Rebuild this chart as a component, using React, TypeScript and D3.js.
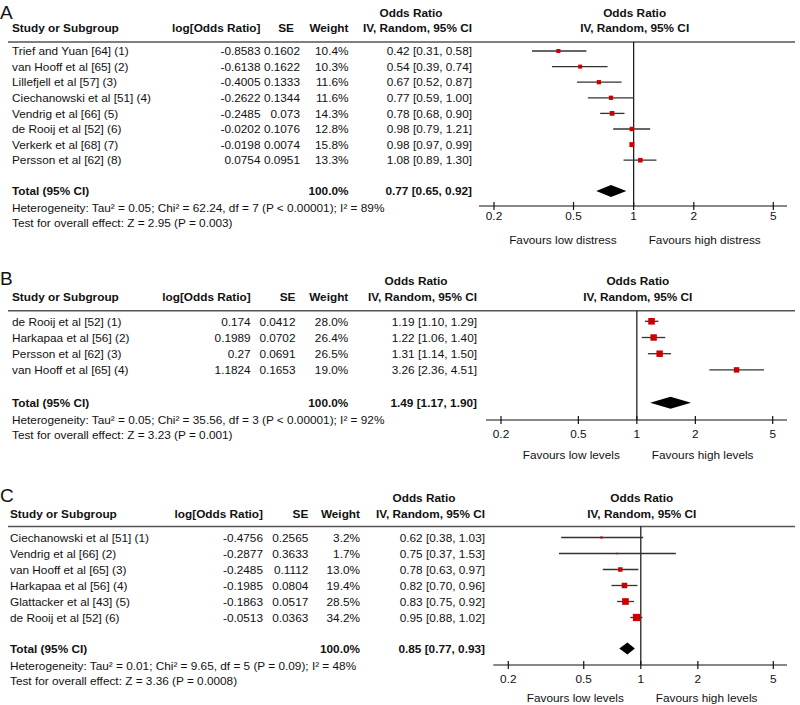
import React from 'react';
import * as d3 from 'd3';

// panel A: psychological distress
const studiesA = ['Trief and Yuan [64] (1)', 'van Hooff et al [65] (2)', 'Lillefjell et al [57] (3)', 'Ciechanowski et al [51] (4)', 'Vendrig et al [66] (5)', 'de Rooij et al [52] (6)', 'Verkerk et al [68] (7)', 'Persson et al [62] (8)'];
const logOrA = [-0.8583, -0.6138, -0.4005, -0.2622, -0.2485, -0.0202, -0.0198, 0.0754];
const seA = [0.1602, 0.1622, 0.1333, 0.1344, 0.073, 0.1076, 0.0074, 0.0951];
const weightA = [10.4, 10.3, 11.6, 11.6, 14.3, 12.8, 15.8, 13.3];
const orA = [0.42, 0.54, 0.67, 0.77, 0.78, 0.98, 0.98, 1.08];
const lowA = [0.31, 0.39, 0.52, 0.59, 0.68, 0.79, 0.97, 0.89];
const highA = [0.58, 0.74, 0.87, 1.0, 0.9, 1.21, 0.99, 1.3];
const totalA = [0.77, 0.65, 0.92];
const hetA = 'Heterogeneity: Tau² = 0.05; Chi² = 62.24, df = 7 (P < 0.00001); I² = 89%';
const testA = 'Test for overall effect: Z = 2.95 (P = 0.003)';
const favoursA = ['Favours low distress', 'Favours high distress'];

// panel B
const studiesB = ['de Rooij et al [52] (1)', 'Harkapaa et al [56] (2)', 'Persson et al [62] (3)', 'van Hooff et al [65] (4)'];
const logOrB = [0.174, 0.1989, 0.27, 1.1824];
const seB = [0.0412, 0.0702, 0.0691, 0.1653];
const weightB = [28.0, 26.4, 26.5, 19.0];
const orB = [1.19, 1.22, 1.31, 3.26];
const lowB = [1.1, 1.06, 1.14, 2.36];
const highB = [1.29, 1.4, 1.5, 4.51];
const totalB = [1.49, 1.17, 1.9];
const hetB = 'Heterogeneity: Tau² = 0.05; Chi² = 35.56, df = 3 (P < 0.00001); I² = 92%';
const testB = 'Test for overall effect: Z = 3.23 (P = 0.001)';
const favoursB = ['Favours low levels', 'Favours high levels'];

// panel C
const studiesC = ['Ciechanowski et al [51] (1)', 'Vendrig et al [66] (2)', 'van Hooff et al [65] (3)', 'Harkapaa et al [56] (4)', 'Glattacker et al [43] (5)', 'de Rooij et al [52] (6)'];
const logOrC = [-0.4756, -0.2877, -0.2485, -0.1985, -0.1863, -0.0513];
const seC = [0.2565, 0.3633, 0.1112, 0.0804, 0.0517, 0.0363];
const weightC = [3.2, 1.7, 13.0, 19.4, 28.5, 34.2];
const orC = [0.62, 0.75, 0.78, 0.82, 0.83, 0.95];
const lowC = [0.38, 0.37, 0.63, 0.7, 0.75, 0.88];
const highC = [1.03, 1.53, 0.97, 0.96, 0.92, 1.02];
const totalC = [0.85, 0.77, 0.93];
const hetC = 'Heterogeneity: Tau² = 0.01; Chi² = 9.65, df = 5 (P = 0.09); I² = 48%';
const testC = 'Test for overall effect: Z = 3.36 (P = 0.0008)';
const favoursC = ['Favours low levels', 'Favours high levels'];

const tickValues = [0.2, 0.5, 1, 2, 5];
const tickLabels = ['0.2', '0.5', '1', '2', '5'];

const FONT = '"Liberation Sans", Arial, Helvetica, sans-serif';
const FS = 11.8;

interface Layout {
  letterY: number;
  head1: number;
  head2: number;
  lineY: number;
  row0: number;
  step: number;
  totalY: number;
  axisY: number;
  tickY: number;
  favY: number;
  x02: number;
  x5: number;
  cStudy: number;
  cLog: number;
  cSe: number;
  cSeHead: number;
  cW: number;
  cCi: number;
}

interface PanelProps {
  letter: string;
  studies: string[];
  logOr: number[];
  se: number[];
  weight: number[];
  or: number[];
  low: number[];
  high: number[];
  total: number[];
  het: string;
  test: string;
  favours: string[];
  L: Layout;
}

const fmtCi = (o: number, l: number, h: number) => `${o.toFixed(2)} [${l.toFixed(2)}, ${h.toFixed(2)}]`;

const Panel: React.FC<PanelProps> = ({ letter, studies, logOr, se, weight, or, low, high, total, het, test, favours, L }) => {
  const x = d3.scaleLog().domain([0.2, 5]).range([L.x02, L.x5]);
  const size = d3.scaleSqrt().domain([0, 100]).range([0, 12.5]);
  const rowY = (i: number) => L.row0 + i * L.step;
  const x1 = x(1);
  const diamond = `M${x(total[1])},${L.totalY} L${x(total[0])},${L.totalY - 6} L${x(total[2])},${L.totalY} L${x(total[0])},${L.totalY + 6} Z`;

  return (
    <g fontFamily={FONT} fontSize={FS} fill="#111">
      <text x={0} y={L.letterY} fontSize={19}>{letter}</text>
      {/* table headers */}
      <text x={L.cCi - 61} y={L.head1} fontWeight="bold" textAnchor="middle">Odds Ratio</text>
      <text x={L.cStudy} y={L.head2} fontWeight="bold">Study or Subgroup</text>
      <text x={L.cLog} y={L.head2} fontWeight="bold" textAnchor="end">log[Odds Ratio]</text>
      <text x={L.cSeHead} y={L.head2} fontWeight="bold" textAnchor="end">SE</text>
      <text x={L.cW} y={L.head2} fontWeight="bold" textAnchor="end">Weight</text>
      <text x={L.cCi} y={L.head2} fontWeight="bold" textAnchor="end">IV, Random, 95% CI</text>
      <text x={x1 + 1} y={L.head1} fontWeight="bold" textAnchor="middle">Odds Ratio</text>
      <text x={x1 + 1} y={L.head2} fontWeight="bold" textAnchor="middle">IV, Random, 95% CI</text>
      <line x1={8} x2={795} y1={L.lineY} y2={L.lineY} stroke="#555" strokeWidth={1.6} />

      {/* study rows */}
      {studies.map((s, i) => (
        <g key={s}>
          <text x={L.cStudy} y={rowY(i)} dy="0.36em">{s}</text>
          <text x={L.cLog} y={rowY(i)} dy="0.36em" textAnchor="end">{String(logOr[i])}</text>
          <text x={L.cSe} y={rowY(i)} dy="0.36em" textAnchor="end">{String(se[i])}</text>
          <text x={L.cW} y={rowY(i)} dy="0.36em" textAnchor="end">{weight[i].toFixed(1)}%</text>
          <text x={L.cCi} y={rowY(i)} dy="0.36em" textAnchor="end">{fmtCi(or[i], low[i], high[i])}</text>
        </g>
      ))}

      {/* totals */}
      <text x={L.cStudy} y={L.totalY} dy="0.36em" fontWeight="bold">Total (95% CI)</text>
      <text x={L.cW} y={L.totalY} dy="0.36em" fontWeight="bold" textAnchor="end">100.0%</text>
      <text x={L.cCi} y={L.totalY} dy="0.36em" fontWeight="bold" textAnchor="end">{fmtCi(total[0], total[1], total[2])}</text>
      <text x={L.cStudy} y={L.totalY + 21}>{het}</text>
      <text x={L.cStudy} y={L.totalY + 36}>{test}</text>

      {/* plot */}
      <line x1={x1} x2={x1} y1={L.lineY} y2={L.axisY} stroke="#111" strokeWidth={1.2} />
      {studies.map((s, i) => {
        const w = size(weight[i]);
        return (
          <g key={'m' + s}>
            <line x1={x(low[i])} x2={x(high[i])} y1={rowY(i)} y2={rowY(i)} stroke="#333" strokeWidth={1.3} />
            <rect x={x(or[i]) - w / 2} y={rowY(i) - w / 2} width={w} height={w} fill="#cc0000" />
          </g>
        );
      })}
      <path d={diamond} fill="#000" />

      {/* axis */}
      <line x1={L.x02 - 15} x2={787} y1={L.axisY} y2={L.axisY} stroke="#111" strokeWidth={1.2} />
      {tickValues.map((t, i) => (
        <g key={'t' + t}>
          <line x1={x(t)} x2={x(t)} y1={L.axisY - 4} y2={L.axisY + 4} stroke="#111" strokeWidth={1.2} />
          <text x={x(t)} y={L.tickY} textAnchor="middle">{tickLabels[i]}</text>
        </g>
      ))}
      <text x={x1 - 17} y={L.favY} textAnchor="end">{favours[0]}</text>
      <text x={x1 + 15} y={L.favY}>{favours[1]}</text>
    </g>
  );
};

const layoutA: Layout = { letterY: 18.5, head1: 17, head2: 32, lineY: 42, row0: 51, step: 15.6, totalY: 191, axisY: 206, tickY: 220, favY: 244, x02: 494, x5: 773.3, cStudy: 12, cLog: 260.5, cSe: 300, cSeHead: 294, cW: 348.5, cCi: 472 };
const layoutB: Layout = { letterY: 285, head1: 285, head2: 301, lineY: 310.7, row0: 321.3, step: 16.2, totalY: 402.7, axisY: 420, tickY: 437.5, favY: 459, x02: 501, x5: 772.7, cStudy: 12, cLog: 250.7, cSe: 295.5, cSeHead: 295.5, cW: 348.3, cCi: 477 };
const layoutC: Layout = { letterY: 502, head1: 501.5, head2: 517.5, lineY: 526.5, row0: 537.5, step: 16, totalY: 648.5, axisY: 665, tickY: 683, favY: 702, x02: 508.3, x5: 773.3, cStudy: 10, cLog: 263, cSe: 308.3, cSeHead: 308.3, cW: 360, cCi: 485 };

export default function App() {
  return (
    <svg width={800} height={705} style={{ position: 'absolute', left: 0, top: 0, background: '#fff' }}>
      <rect width={800} height={705} fill="#fff" />
      <Panel letter="A" studies={studiesA} logOr={logOrA} se={seA} weight={weightA} or={orA} low={lowA} high={highA} total={totalA} het={hetA} test={testA} favours={favoursA} L={layoutA} />
      <Panel letter="B" studies={studiesB} logOr={logOrB} se={seB} weight={weightB} or={orB} low={lowB} high={highB} total={totalB} het={hetB} test={testB} favours={favoursB} L={layoutB} />
      <Panel letter="C" studies={studiesC} logOr={logOrC} se={seC} weight={weightC} or={orC} low={lowC} high={highC} total={totalC} het={hetC} test={testC} favours={favoursC} L={layoutC} />
    </svg>
  );
}
